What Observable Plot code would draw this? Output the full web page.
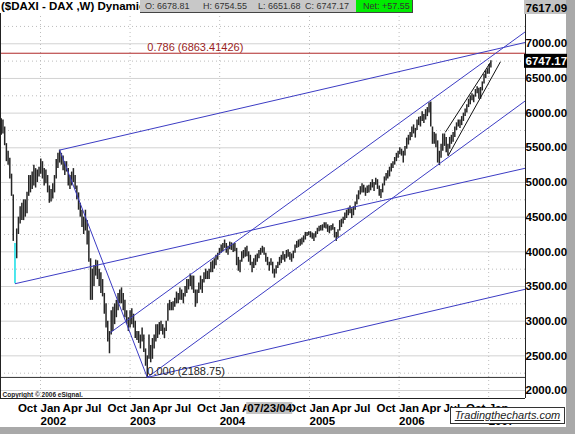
<!DOCTYPE html>
<html><head><meta charset="utf-8">
<script src="https://cdn.jsdelivr.net/npm/d3@7"></script>
<script src="https://cdn.jsdelivr.net/npm/@observablehq/plot@0.6"></script>
<style>
body{margin:0;background:#fff;}
#wrap{position:relative;width:575px;height:434px;background:#a9a9a9;overflow:hidden;font-family:"Liberation Sans",Arial,sans-serif;}
#chart{position:absolute;left:0;top:0;width:566px;height:427px;background:#fff;}
#hdr{position:absolute;left:0;top:0;width:524px;height:13px;background:#fff;}
#ttl{position:absolute;left:1px;top:0px;font-weight:bold;font-size:11.5px;color:#000;white-space:nowrap;}
#ohlcBox{position:absolute;left:140px;top:0;width:216px;height:12px;background:#c8c8c8;border-bottom:1px solid #444;}
#netBox{position:absolute;left:356px;top:0;width:56px;height:12px;background:#00ec00;border-bottom:1px solid #444;border-right:1px solid #444;}
.hv{position:absolute;top:1px;font-size:9px;color:#333;white-space:nowrap;}
#logo{position:absolute;left:450px;top:407px;width:113px;height:15px;background:#fff;border:1px solid #333;font-style:italic;text-decoration:underline;font-size:11px;color:#222;text-align:center;line-height:15px;}
</style></head><body>
<div id="wrap">
  <div id="chart"></div>
  <div id="hdr"><div id="ttl"></div><div id="ohlcBox"></div><div id="netBox"></div></div>
  <div id="logo"></div>
</div>
<script>
// ---- data ----
const symbolTitle = "($DAXI - DAX ,W) Dynamic";
const ohlcNames = ["O", "H", "L", "C"];
const ohlcValues = [6678.81, 6754.55, 6651.68, 6747.17];
const netChange = 57.55;
const copyright = "Copyright © 2006 eSignal.";
const logoText = "Tradingthecharts.com";
const cursorDate = "2004-07-23";
const cursorLabel = "07/23/04";
const axisMax = 7617.09;
const lastClose = 6747.17;

const firstWeek = "2001-07-25"; // first weekly bar
const lows = [
5680,5700,5530,5300,5250,5050,4800,4150,3540,3900,
4250,4400,4450,4450,4500,4550,4800,4850,4900,4950,
4920,5000,5080,5120,5050,4950,4980,4850,4700,4720,
4760,4850,5050,5200,5280,5250,5170,5100,5150,4950,
4900,4950,5000,4900,4750,4600,4500,4350,4250,4300,
4100,3850,3300,3300,3500,3650,3600,3500,3400,3350,
3100,2900,2700,2530,2800,2850,2950,3050,3150,3250,
3250,3150,3050,2950,2850,2900,2950,2900,2750,2720,
2680,2600,2700,2550,2350,2188.75,2450,2400,2450,2600,
2700,2750,2800,2850,2800,2750,2850,3000,3150,3150,
3150,3200,3250,3250,3300,3300,3250,3350,3400,3450,
3500,3450,3400,3200,3250,3400,3450,3400,3550,3600,
3600,3600,3700,3700,3750,3800,3880,3950,3980,4000,
4050,3980,3950,4030,4020,3990,4000,3800,3720,3700,
3850,3900,3920,3930,3850,3800,3700,3760,3800,3850,
3900,3950,3980,3950,3850,3800,3720,3800,3680,3620,
3680,3760,3800,3830,3880,3850,3900,3920,3880,3850,
3900,3980,4050,4060,4080,4100,4130,4170,4220,4230,
4200,4180,4150,4200,4250,4290,4300,4300,4340,4330,
4280,4260,4300,4310,4200,4150,4200,4300,4350,4400,
4450,4480,4520,4550,4480,4520,4600,4680,4750,4820,
4850,4850,4800,4840,4850,4880,4920,4870,4960,4900,
4800,4770,4850,4950,5020,5050,5080,5150,5200,5250,
5300,5350,5400,5380,5280,5380,5480,5540,5600,5650,
5700,5640,5750,5820,5800,5880,5850,5900,5950,6000,
5800,5550,5550,5500,5280,5243,5350,5450,5520,5430,
5380,5480,5550,5580,5650,5750,5800,5780,5820,5880,
5950,6000,6080,6120,6180,6150,6230,6280,6200,6200,
6320,6420,6500,6560,6560,6651.68];
const highs = [
5920,5900,5800,5560,5450,5350,5120,4820,4120,4330,
4500,4650,4700,4750,4750,4860,5100,5100,5150,5250,
5200,5180,5220,5340,5300,5200,5180,5100,4950,4900,
4980,5100,5330,5420,5467,5420,5380,5300,5300,5200,
5100,5150,5200,5100,4950,4850,4700,4600,4500,4600,
4450,4300,3900,3750,3800,3880,3870,3750,3700,3600,
3400,3250,3000,2850,3150,3200,3250,3300,3400,3450,
3480,3400,3300,3150,3050,3150,3180,3100,3000,2850,
2850,2800,2900,2800,2600,2500,2800,2650,2750,2800,
2950,2950,2980,3000,2950,2900,3000,3250,3300,3270,
3280,3330,3420,3400,3480,3450,3400,3500,3600,3600,
3680,3650,3650,3450,3450,3550,3650,3600,3700,3750,
3720,3750,3850,3870,3900,3950,3980,4050,4100,4120,
4170,4120,4080,4140,4130,4110,4120,4050,3920,3880,
4000,4020,4060,4080,4000,3950,3850,3900,3950,3970,
4020,4050,4080,4060,3980,3920,3850,3900,3850,3750,
3800,3850,3920,3950,4000,3960,4020,4030,3990,3970,
4010,4100,4150,4170,4180,4200,4230,4280,4280,4290,
4290,4270,4260,4290,4340,4370,4380,4390,4420,4420,
4390,4370,4380,4400,4350,4280,4320,4450,4470,4500,
4560,4600,4630,4660,4620,4650,4720,4820,4880,4940,
4980,4960,4920,4950,4960,5000,5040,5000,5060,5040,
4950,4900,4980,5080,5130,5170,5220,5270,5300,5360,
5420,5450,5500,5480,5450,5520,5640,5680,5720,5800,
5830,5780,5900,5940,5950,6020,5980,6050,6080,6150,
6162,5800,5720,5700,5600,5450,5550,5700,5700,5650,
5550,5650,5680,5720,5800,5860,5900,5900,5950,6000,
6060,6120,6200,6250,6280,6260,6340,6380,6360,6370,
6450,6560,6610,6640,6700,6754.55];
const highlightedWeek = 8; // Sept 2001 crash bar, drawn in cyan

const priceTicks = [2000, 2500, 3000, 3500, 4000, 4500, 5000, 5500, 6000, 6500, 7000];
const minorLevels = [2250, 2750, 3250, 3750, 4250, 4750, 5250, 5750, 6250, 6750, 7250, 7500];
const yearStarts = ["2002-01-01", "2003-01-01", "2004-01-01", "2005-01-01", "2006-01-01", "2007-01-01"];
const quarterTicks = ["2001-10-01",
  "2002-01-01","2002-04-01","2002-07-01","2002-10-01",
  "2003-01-01","2003-04-01","2003-07-01","2003-10-01",
  "2004-01-01","2004-04-01","2004-10-01",
  "2005-01-01","2005-04-01","2005-07-01","2005-10-01",
  "2006-01-01","2006-04-01","2006-07-01","2006-10-01","2007-01-01"];
const monthNames = ["Jan", "Apr", "Jul", "Oct"];

// trend lines [start date, start value, end date, end value]
const blueLines = [
  ["2002-03-20", 5467, "2007-05-31", 7020],
  ["2001-09-19", 3540, "2007-05-31", 5206],
  ["2002-03-20", 5467, "2003-03-12", 2188.75],
  ["2003-03-12", 2188.75, "2007-05-31", 6179],
  ["2002-10-13", 2836, "2007-05-31", 7175],
  ["2003-03-12", 2188.75, "2007-05-31", 3461]
];
const blackLines = [
  ["2006-07-19", 5380, "2007-02-18", 6741],
  ["2006-07-08", 5722, "2007-01-08", 6731]
];
const fibAnchorDate = "2003-03-12";
const fibHigh = {label: "0.786 (6863.41426)", value: 6863.41426};
const fibLow = {label: "0.000 (2188.75)", value: 2188.75};

const xDomain = ["2001-07-22", "2007-05-31"];
const yDomain = [1885, 7624];

// ---- build ----
const D = s => new Date(s + "T00:00:00Z");
const t0 = D(firstWeek).getTime();
const bars = lows.map((lo, i) => ({i, date: new Date(t0 + i * 7 * 864e5), low: lo, high: highs[i]}));
const toLink = a => ({x1: D(a[0]), y1: a[1], x2: D(a[2]), y2: a[3]});
const xMax = D(xDomain[1]);
const f2 = d3.format(".2f");
const font = "Liberation Sans, Arial, sans-serif";

const chart = Plot.plot({
  width: 566, height: 427,
  marginLeft: 0, marginRight: 41, marginTop: 0, marginBottom: 29,
  style: {fontFamily: font, background: "white", color: "black", overflow: "visible"},
  x: {type: "utc", domain: xDomain.map(D)},
  y: {domain: yDomain},
  marks: [
    Plot.ruleY(priceTicks, {stroke: "#d2d2d2"}),
    Plot.ruleY(minorLevels, {stroke: "#bdbdbd", strokeDasharray: "1,3"}),
    Plot.ruleX(yearStarts.map(D), {stroke: "#bdbdbd", strokeDasharray: "1,3"}),
    Plot.ruleY([fibHigh.value], {stroke: "#b02828"}),
    Plot.ruleY([fibLow.value], {stroke: "#333"}),
    Plot.ruleX(bars.filter(d => d.i !== highlightedWeek), {x: "date", y1: "low", y2: "high", stroke: "#262626", strokeWidth: 1.5}),
    Plot.ruleX(bars.filter(d => d.i === highlightedWeek), {x: "date", y1: "low", y2: "high", stroke: "#22e0e8", strokeWidth: 1.6}),
    Plot.link(blueLines.map(toLink), {x1: "x1", y1: "y1", x2: "x2", y2: "y2", stroke: "#3c3cc4", strokeWidth: 1}),
    Plot.link(blackLines.map(toLink), {x1: "x1", y1: "y1", x2: "x2", y2: "y2", stroke: "#111", strokeWidth: 1}),
    Plot.text([fibHigh], {x: () => D(fibAnchorDate), y: "value", text: "label", textAnchor: "start", lineAnchor: "bottom", dy: -2, fontSize: 11, fill: "#9a1e1e"}),
    Plot.text([fibLow], {x: () => D(fibAnchorDate), y: "value", text: "label", textAnchor: "start", lineAnchor: "bottom", dy: -2, fontSize: 11, fill: "#222"}),
    Plot.text([copyright], {frameAnchor: "bottom-left", dx: 2, dy: -2, lineAnchor: "bottom", fontSize: 6.5, fontWeight: "bold", fill: "#222"}),
    // frame edges
    Plot.ruleX([D(xDomain[0])], {stroke: "#222"}),
    Plot.ruleX([xMax], {stroke: "#222"}),
    Plot.ruleY([yDomain[0]], {stroke: "#222"}),
    // axes
    Plot.axisY({anchor: "right", ticks: priceTicks, tickFormat: f2, tickSize: 0, tickPadding: 0, textAnchor: "start", fontSize: 11.5, fontWeight: "bold", fill: "black"}),
    Plot.axisX({ticks: quarterTicks.map(D), tickSize: 0, tickPadding: 4, textAnchor: "start", lineAnchor: "top", lineHeight: 1.15, fontSize: 11.5, fontWeight: "bold", fill: "black",
      tickFormat: d => monthNames[d.getUTCMonth() / 3] + (d.getUTCMonth() === 0 ? "\n" + d.getUTCFullYear() : "")}),
    // cursor date readout on x axis
    Plot.rect([cursorDate], {x1: d => D(d), x2: d => D(d), y1: yDomain[0], y2: yDomain[0], insetLeft: -23, insetRight: -23, insetTop: 4, insetBottom: -16, fill: "#c4c4c4"}),
    Plot.text([cursorLabel], {x: () => D(cursorDate), frameAnchor: "bottom", lineAnchor: "top", dy: 5, fontSize: 11.5, fontWeight: "bold", fill: "black"}),
    // value boxes on the right axis
    Plot.rect([axisMax], {x1: () => xMax, x2: () => xMax, y1: d => d, y2: d => d, insetLeft: -1, insetRight: -41, insetTop: -0.5, insetBottom: -13.5, fill: "#c3c3c3"}),
    Plot.text([axisMax], {x: () => xMax, y: d => d, text: d => f2(d), dx: 0, dy: 7, textAnchor: "start", fontSize: 11.5, fontWeight: "bold", fill: "black"}),
    Plot.rect([lastClose], {x1: () => xMax, x2: () => xMax, y1: d => d, y2: d => d, insetLeft: -1, insetRight: -42, insetTop: -7, insetBottom: -7, fill: "black"}),
    Plot.text([lastClose], {x: () => xMax, y: d => d, text: d => f2(d), dx: 0, textAnchor: "start", fontSize: 11.5, fontWeight: "bold", fill: "white"})
  ]
});
document.getElementById("chart").appendChild(chart);

// header & logo
document.getElementById("ttl").textContent = symbolTitle;
const ob = document.getElementById("ohlcBox");
const hx = [5, 63, 118, 165];
ohlcNames.forEach((n, i) => {
  const s = document.createElement("span");
  s.className = "hv"; s.style.left = hx[i] + "px";
  s.textContent = n + ": " + f2(ohlcValues[i]);
  ob.appendChild(s);
});
const nb = document.getElementById("netBox");
const ns = document.createElement("span");
ns.className = "hv"; ns.style.left = "7px";
ns.textContent = "Net: " + (netChange >= 0 ? "+" : "") + f2(netChange);
nb.appendChild(ns);
document.getElementById("logo").textContent = logoText;
</script>
</body></html>
